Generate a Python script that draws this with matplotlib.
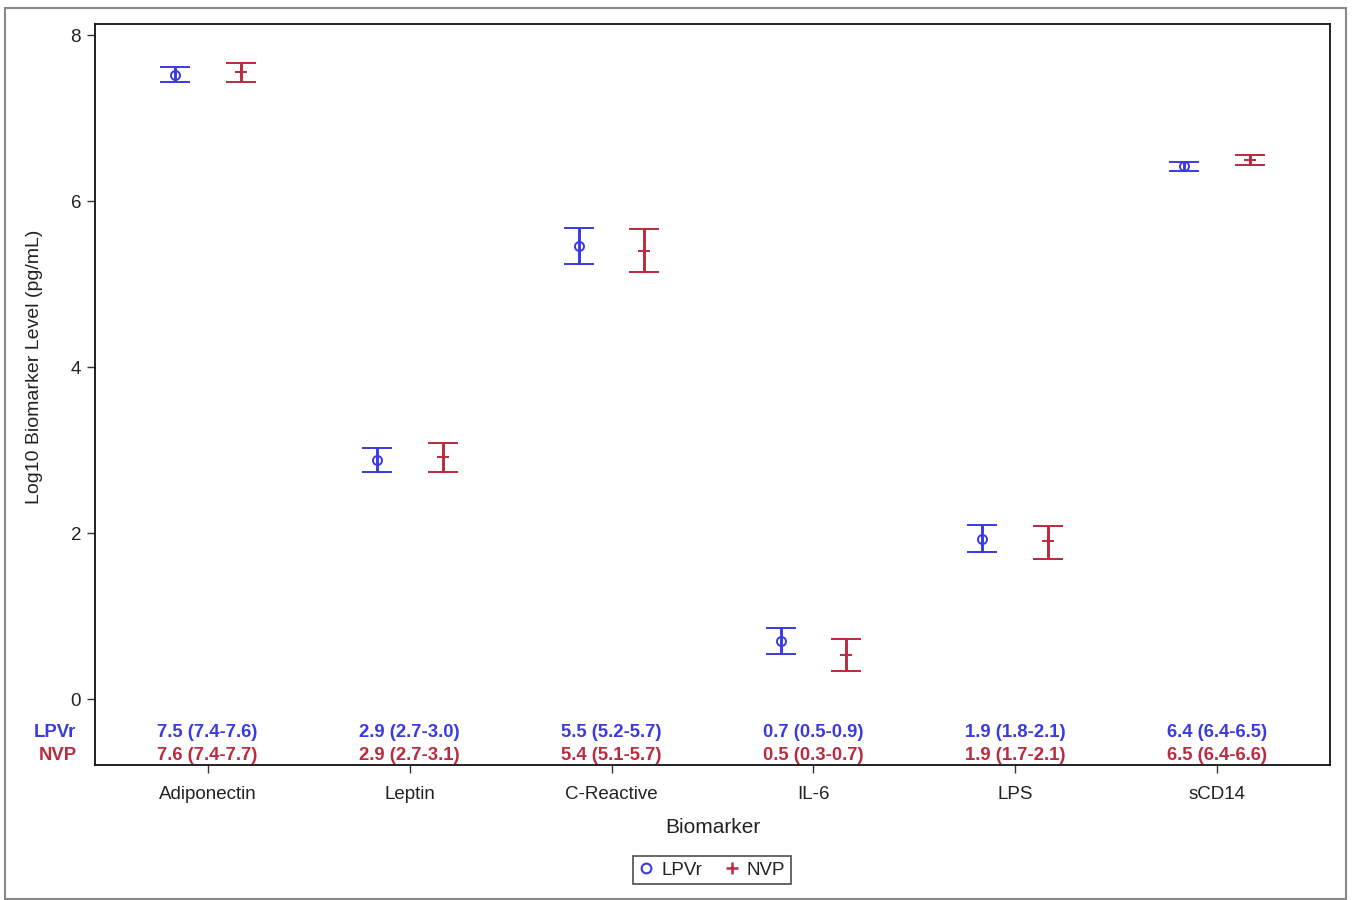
import matplotlib
matplotlib.use("Agg")
import matplotlib.pyplot as plt
import numpy as np
from matplotlib.lines import Line2D
from matplotlib.patches import Rectangle

plt.rcParams["font.family"] = ["Liberation Sans", "DejaVu Sans"]

# Biomarker categories and geometric-mean log10 levels with 95% CI
biomarkers = ["Adiponectin", "Leptin", "C-Reactive", "IL-6", "LPS", "sCD14"]

lpvr_mean = [7.52, 2.88, 5.46, 0.70, 1.93, 6.42]
lpvr_low = [7.43, 2.74, 5.24, 0.54, 1.77, 6.36]
lpvr_high = [7.62, 3.03, 5.68, 0.86, 2.10, 6.47]

nvp_mean = [7.56, 2.91, 5.40, 0.53, 1.90, 6.50]
nvp_low = [7.43, 2.74, 5.14, 0.34, 1.69, 6.43]
nvp_high = [7.66, 3.08, 5.66, 0.72, 2.09, 6.56]

groups = ["LPVr", "NVP"]
blue = "#3a3ae0"
red = "#bb2a3e"

fig = plt.figure(figsize=(13.55, 9.0), dpi=100)
ax = fig.add_axes([95 / 1355, 135 / 900, 1235 / 1355, 741 / 900])

x = np.arange(len(biomarkers))
offset = 0.163

def draw_group(xpos, mean, low, high, color, marker, ms, mew):
    mean = np.asarray(mean)
    yerr = [mean - np.asarray(low), np.asarray(high) - mean]
    ax.errorbar(xpos, mean, yerr=yerr, fmt=marker, color=color, ecolor=color,
                mfc="none", mec=color, ms=ms, mew=mew, elinewidth=2.1,
                capsize=11, capthick=2.1, zorder=3)

draw_group(x - offset, lpvr_mean, lpvr_low, lpvr_high, blue, "o", 6.5, 1.4)
draw_group(x + offset, nvp_mean, nvp_low, nvp_high, red, "+", 8, 1.4)

ax.set_xlim(-0.558, len(biomarkers) - 1 + 0.558)
ax.set_ylim(-0.795, 8.133)
ax.set_yticks([0, 2, 4, 6, 8])
ax.set_xticks(x)
ax.set_xticklabels(biomarkers)

ax.tick_params(axis="both", direction="out", length=6, width=1.0,
               color="#333333", labelcolor="#222222", labelsize=13.5)
ax.tick_params(axis="x", pad=9)
ax.tick_params(axis="y", pad=4)
for sp in ax.spines.values():
    sp.set_color("#111111")
    sp.set_linewidth(1.3)

ax.set_xlabel("Biomarker", fontsize=15, color="#222222")
ax.xaxis.set_label_coords(0.5, -0.071)
ax.set_ylabel("Log10 Biomarker Level (pg/mL)", fontsize=14, color="#222222")
ax.yaxis.set_label_coords(-0.042, 0.537)

# Inset table of mean (CI) values along the bottom of the plot
row_y = [-0.398, -0.675]
fmt = "{:.1f} ({:.1f}-{:.1f})"
for i in range(len(biomarkers)):
    ax.text(x[i], row_y[0], fmt.format(lpvr_mean[i], lpvr_low[i], lpvr_high[i]),
            ha="center", va="center", fontsize=13.3, fontweight="bold", color=blue)
    ax.text(x[i], row_y[1], fmt.format(nvp_mean[i], nvp_low[i], nvp_high[i]),
            ha="center", va="center", fontsize=13.3, fontweight="bold", color=red)

trans = ax.get_yaxis_transform()
ax.text(-0.015, row_y[0], groups[0], transform=trans, ha="right", va="center",
        fontsize=13.3, fontweight="bold", color=blue)
ax.text(-0.015, row_y[1], groups[1], transform=trans, ha="right", va="center",
        fontsize=13.3, fontweight="bold", color=red)

handles = [
    Line2D([], [], linestyle="none", marker="o", mfc="none", mec=blue, ms=7, mew=1.5),
    Line2D([], [], linestyle="none", marker="+", color=red, ms=9, mew=1.8),
]
leg = fig.legend(handles, groups, loc="center", bbox_to_anchor=(712 / 1355, 1 - 870 / 900),
                 ncol=2, frameon=True, fancybox=False, fontsize=13.5,
                 handlelength=0.8, handletextpad=0.4, columnspacing=1.2,
                 borderpad=0.3, borderaxespad=0)
leg.get_frame().set_edgecolor("#333333")
leg.get_frame().set_linewidth(1.3)
for t in leg.get_texts():
    t.set_color("#222222")

# Outer border around the whole graph
fig.patches.append(Rectangle((5 / 1355, 1.5 / 900), 1341 / 1355, 891 / 900,
                             transform=fig.transFigure, fill=False,
                             edgecolor="#888888", linewidth=1.5))

fig.savefig("out.png", dpi=100)
